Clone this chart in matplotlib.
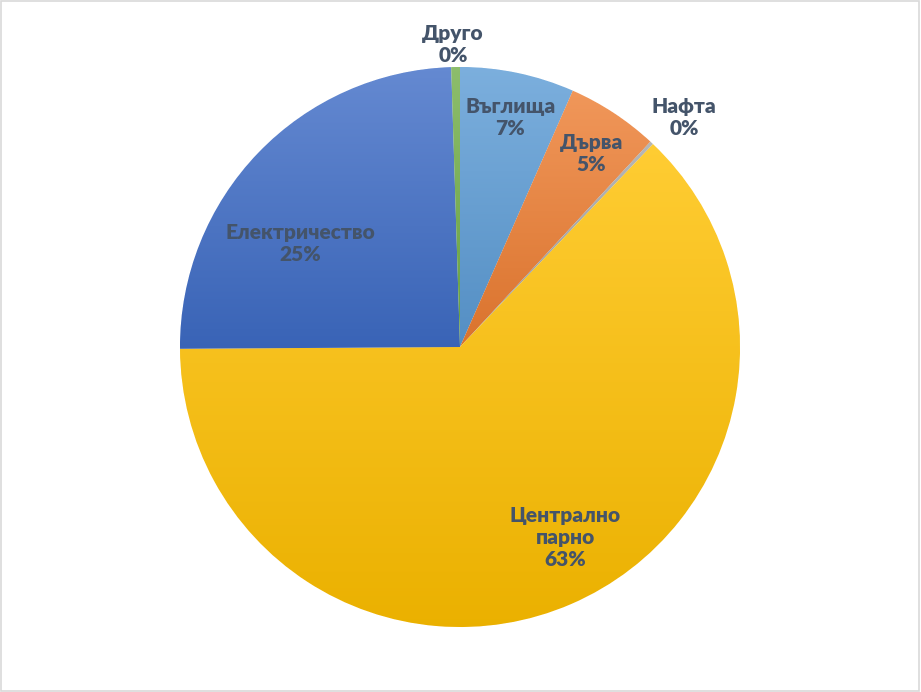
import numpy as np
import matplotlib
matplotlib.use("Agg")
import matplotlib.pyplot as plt
from matplotlib.colors import to_rgb
from matplotlib.patches import Rectangle

# data
labels = ["Въглища", "Дърва", "Нафта", "Централно\nпарно", "Електричество", "Друго"]
values = [6.6, 5.3, 0.2, 62.8, 24.6, 0.5]
colors = ["#5B9BD5", "#ED7D31", "#A5A5A5", "#FFC000", "#3E6CC6", "#70AD47"]

# label placement: (x, y) in pie units (radius = 1)
label_pos = [(0.18, 0.82), (0.47, 0.69), (0.80, 0.82), (0.375, -0.68), (-0.57, 0.37), (-0.025, 1.08)]

text_color = "#44546A"

fig = plt.figure(figsize=(9.21, 6.92), dpi=100)
fig.patch.set_facecolor("white")
fig.patches.append(Rectangle((0.001, 0.001), 0.997, 0.997, transform=fig.transFigure,
                             fill=False, edgecolor="#D9D9D9", lw=1.2))

cx, cy = 460 / 921, 1 - 347 / 692
w, h = 2 * 280 / 921, 2 * 280 / 692
ax = fig.add_axes([cx - w / 2, cy - h / 2, w, h])

wedges, _ = ax.pie(values, colors=colors, startangle=90, counterclock=False,
                   wedgeprops=dict(edgecolor="white", linewidth=0.6))

# excel-like vertical gradient on each slice
for wdg, c in zip(wedges, colors):
    base = np.array(to_rgb(c))
    top = base + (1 - base) * 0.2
    bot = base * 0.92
    verts = wdg.get_path().vertices
    x0, x1 = verts[:, 0].min(), verts[:, 0].max()
    y0, y1 = verts[:, 1].min(), verts[:, 1].max()
    t = np.linspace(0, 1, 256)[:, None]
    grad = (top[None, :] * (1 - t) + bot[None, :] * t)[:, None, :]
    im = ax.imshow(grad, extent=(x0, x1, y0, y1), origin="upper", aspect="auto",
                   interpolation="bilinear", zorder=wdg.get_zorder() + 0.1)
    im.set_clip_path(wdg)

total = sum(values)
for lab, v, (x, y) in zip(labels, values, label_pos):
    ax.text(x, y, f"{lab}\n{v / total * 100:.0f}%", ha="center", va="center",
            fontsize=15, fontweight="heavy", color=text_color,
            family=["Lato", "DejaVu Sans"], linespacing=1.18, zorder=10)

ax.set_xlim(-1, 1)
ax.set_ylim(-1, 1)
ax.set_aspect("auto")
ax.axis("off")

fig.savefig("out.png", dpi=100)
